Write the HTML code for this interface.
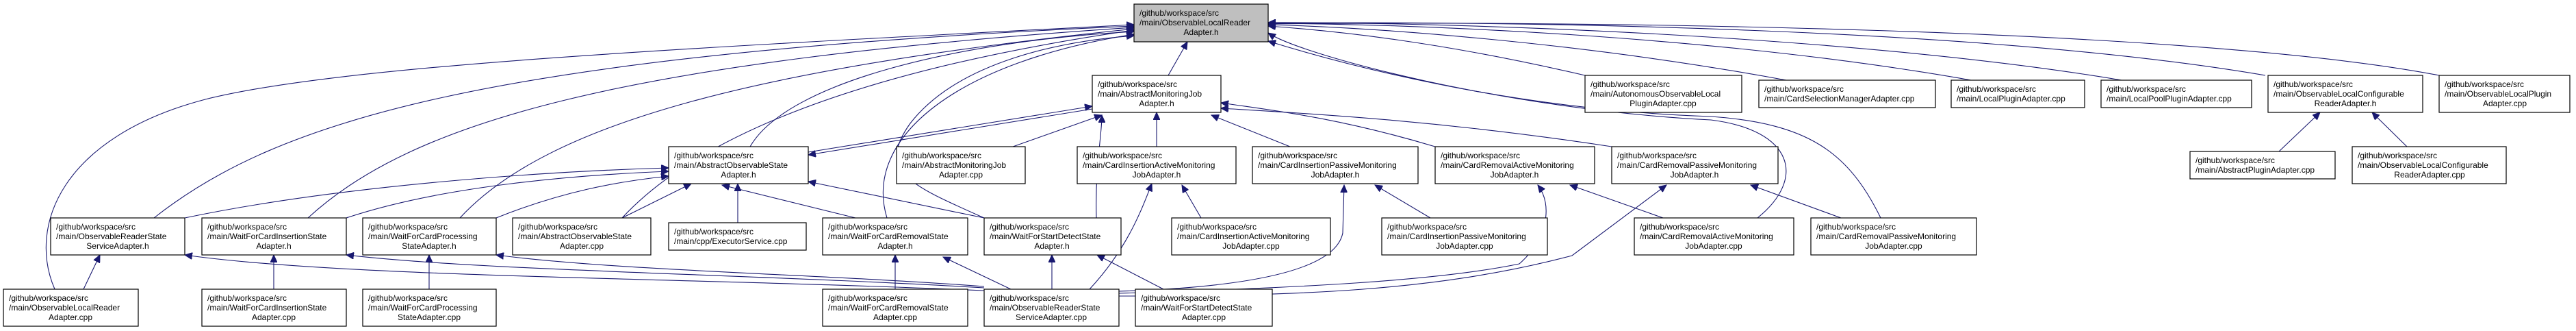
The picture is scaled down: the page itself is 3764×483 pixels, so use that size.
<!DOCTYPE html>
<html><head><meta charset="utf-8"><style>
html,body{margin:0;padding:0;background:#fff;}
svg{display:block;}
text{font-family:"Liberation Sans",Arial,sans-serif;font-size:12px;fill:#000;}
.b{fill:#fff;stroke:#000;stroke-width:1.2;}
.e{fill:none;stroke:#191970;stroke-width:1.1;}
</style></head><body>
<svg width="3764" height="483" viewBox="0 0 3764 483" xmlns="http://www.w3.org/2000/svg">
<defs>
<marker id="a" markerUnits="userSpaceOnUse" markerWidth="12" markerHeight="10" refX="11" refY="5" orient="auto">
<path d="M0,0 L11,5 L0,10 z" fill="#191970" stroke="#191970"/>
</marker>
</defs>
<g marker-end="url(#a)">
<path class="e" d="M80,422 C40,330 90,200 300,145 C500,95 1000,70 1657,36"/>
<path class="e" d="M225,318 C400,180 700,80 1657,38"/>
<path class="e" d="M450,318 C600,180 900,90 1657,40"/>
<path class="e" d="M672,318 C800,180 1100,100 1657,42"/>
<path class="e" d="M909,318 C1000,220 1200,110 1657,44"/>
<path class="e" d="M1096,214 C1150,120 1400,60 1657,46"/>
<path class="e" d="M1296,318 C1260,200 1400,90 1657,50"/>
<path class="e" d="M1438,318 C1330,270 1280,250 1330,180 C1400,90 1550,60 1657,52"/>
<path class="e" d="M1707,110 L1735,61"/>
<path class="e" d="M2316,110 C2100,60 1950,45 1853,38"/>
<path class="e" d="M2610,117 C2300,60 2000,40 1853,36"/>
<path class="e" d="M2880,117 C2500,50 2050,35 1853,34"/>
<path class="e" d="M3100,117 C2700,50 2100,32 1853,33"/>
<path class="e" d="M3310,110 C2900,40 2200,30 1853,34"/>
<path class="e" d="M3564,110 C3200,40 2300,30 1853,35"/>
<path class="e" d="M2568,318 C2640,260 2620,190 2500,175 C2200,160 1900,80 1853,48"/>
<path class="e" d="M2748,318 C2700,220 2640,180 2500,170 C2200,160 1950,90 1853,60"/>
<path class="e" d="M1181,222 L1596,155"/>
<path class="e" d="M1596,159 L1181,226"/>
<path class="e" d="M270,318 C500,270 800,250 977,245"/>
<path class="e" d="M506,318 C650,270 850,255 977,250"/>
<path class="e" d="M725,318 C820,280 900,265 977,257"/>
<path class="e" d="M909,318 L1010,268"/>
<path class="e" d="M1078,325 L1078,268"/>
<path class="e" d="M1250,318 L1055,270"/>
<path class="e" d="M1438,318 L1181,265"/>
<path class="e" d="M1480,214 L1610,168"/>
<path class="e" d="M1690,214 L1690,164"/>
<path class="e" d="M1885,214 L1770,168"/>
<path class="e" d="M2097,214 C1950,170 1850,160 1784,150"/>
<path class="e" d="M2355,214 C2100,175 1900,165 1784,158"/>
<path class="e" d="M1602,318 C1600,240 1610,200 1610,168"/>
<path class="e" d="M1438,424 C1000,405 500,405 270,372"/>
<path class="e" d="M1438,420 C1100,400 700,395 506,372"/>
<path class="e" d="M1438,418 C1200,400 900,395 725,372"/>
<path class="e" d="M1477,422 L1378,375"/>
<path class="e" d="M1537,422 L1537,372"/>
<path class="e" d="M1592,422 C1650,360 1670,300 1683,268"/>
<path class="e" d="M1635,425 C1800,420 1950,400 1962,340 L1964,270"/>
<path class="e" d="M1635,428 C1900,420 2100,410 2220,385 C2260,350 2270,300 2247,270"/>
<path class="e" d="M1635,432 C1900,432 2100,425 2297,373 L2435,270"/>
<path class="e" d="M400,422 L400,372"/>
<path class="e" d="M627,422 L627,372"/>
<path class="e" d="M122,422 L146,372"/>
<path class="e" d="M1308,422 L1308,372"/>
<path class="e" d="M1700,422 L1603,372"/>
<path class="e" d="M1755,318 L1727,270"/>
<path class="e" d="M2090,318 L2009,270"/>
<path class="e" d="M2430,318 L2294,270"/>
<path class="e" d="M2690,318 L2558,270"/>
<path class="e" d="M3330,221 L3390,164"/>
<path class="e" d="M3517,214 L3466,164"/>
</g>
<g>
<rect x="1657" y="6" width="196" height="55" fill="#bfbfbf" stroke="#000" stroke-width="1.2"/>
<text x="1665" y="23">/github/workspace/src</text><text x="1665" y="37">/main/ObservableLocalReader</text><text x="1755" y="51" text-anchor="middle">Adapter.h</text>

<rect class="b" x="1596" y="110" width="188" height="54"/>
<text x="1604" y="127">/github/workspace/src</text><text x="1604" y="141">/main/AbstractMonitoringJob</text><text x="1690" y="155" text-anchor="middle">Adapter.h</text>

<rect class="b" x="2316" y="110" width="229" height="54"/>
<text x="2324" y="127">/github/workspace/src</text><text x="2324" y="141">/main/AutonomousObservableLocal</text><text x="2430" y="155" text-anchor="middle">PluginAdapter.cpp</text>

<rect class="b" x="2570" y="117" width="258" height="40"/>
<text x="2578" y="134">/github/workspace/src</text><text x="2578" y="148">/main/CardSelectionManagerAdapter.cpp</text>

<rect class="b" x="2851" y="117" width="195" height="40"/>
<text x="2859" y="134">/github/workspace/src</text><text x="2859" y="148">/main/LocalPluginAdapter.cpp</text>

<rect class="b" x="3070" y="117" width="220" height="40"/>
<text x="3078" y="134">/github/workspace/src</text><text x="3078" y="148">/main/LocalPoolPluginAdapter.cpp</text>

<rect class="b" x="3314" y="110" width="226" height="54"/>
<text x="3322" y="127">/github/workspace/src</text><text x="3322" y="141">/main/ObservableLocalConfigurable</text><text x="3427" y="155" text-anchor="middle">ReaderAdapter.h</text>

<rect class="b" x="3564" y="110" width="191" height="54"/>
<text x="3572" y="127">/github/workspace/src</text><text x="3572" y="141">/main/ObservableLocalPlugin</text><text x="3660" y="155" text-anchor="middle">Adapter.cpp</text>

<rect class="b" x="3200" y="221" width="212" height="40"/>
<text x="3208" y="238">/github/workspace/src</text><text x="3208" y="252">/main/AbstractPluginAdapter.cpp</text>

<rect class="b" x="3437" y="214" width="225" height="54"/>
<text x="3445" y="231">/github/workspace/src</text><text x="3445" y="245">/main/ObservableLocalConfigurable</text><text x="3550" y="259" text-anchor="middle">ReaderAdapter.cpp</text>

<rect class="b" x="977" y="214" width="204" height="54"/>
<text x="985" y="231">/github/workspace/src</text><text x="985" y="245">/main/AbstractObservableState</text><text x="1079" y="259" text-anchor="middle">Adapter.h</text>

<rect class="b" x="1310" y="214" width="188" height="54"/>
<text x="1318" y="231">/github/workspace/src</text><text x="1318" y="245">/main/AbstractMonitoringJob</text><text x="1404" y="259" text-anchor="middle">Adapter.cpp</text>

<rect class="b" x="1574" y="214" width="232" height="54"/>
<text x="1582" y="231">/github/workspace/src</text><text x="1582" y="245">/main/CardInsertionActiveMonitoring</text><text x="1690" y="259" text-anchor="middle">JobAdapter.h</text>

<rect class="b" x="1830" y="214" width="242" height="54"/>
<text x="1838" y="231">/github/workspace/src</text><text x="1838" y="245">/main/CardInsertionPassiveMonitoring</text><text x="1951" y="259" text-anchor="middle">JobAdapter.h</text>

<rect class="b" x="2097" y="214" width="233" height="54"/>
<text x="2105" y="231">/github/workspace/src</text><text x="2105" y="245">/main/CardRemovalActiveMonitoring</text><text x="2213" y="259" text-anchor="middle">JobAdapter.h</text>

<rect class="b" x="2355" y="214" width="243" height="54"/>
<text x="2363" y="231">/github/workspace/src</text><text x="2363" y="245">/main/CardRemovalPassiveMonitoring</text><text x="2476" y="259" text-anchor="middle">JobAdapter.h</text>

<rect class="b" x="74" y="318" width="196" height="54"/>
<text x="82" y="335">/github/workspace/src</text><text x="82" y="349">/main/ObservableReaderState</text><text x="172" y="363" text-anchor="middle">ServiceAdapter.h</text>

<rect class="b" x="295" y="318" width="211" height="54"/>
<text x="303" y="335">/github/workspace/src</text><text x="303" y="349">/main/WaitForCardInsertionState</text><text x="400" y="363" text-anchor="middle">Adapter.h</text>

<rect class="b" x="530" y="318" width="195" height="54"/>
<text x="538" y="335">/github/workspace/src</text><text x="538" y="349">/main/WaitForCardProcessing</text><text x="627" y="363" text-anchor="middle">StateAdapter.h</text>

<rect class="b" x="749" y="318" width="202" height="54"/>
<text x="757" y="335">/github/workspace/src</text><text x="757" y="349">/main/AbstractObservableState</text><text x="850" y="363" text-anchor="middle">Adapter.cpp</text>

<rect class="b" x="977" y="325" width="201" height="40"/>
<text x="985" y="342">/github/workspace/src</text><text x="985" y="356">/main/cpp/ExecutorService.cpp</text>

<rect class="b" x="1202" y="318" width="212" height="54"/>
<text x="1210" y="335">/github/workspace/src</text><text x="1210" y="349">/main/WaitForCardRemovalState</text><text x="1308" y="363" text-anchor="middle">Adapter.h</text>

<rect class="b" x="1438" y="318" width="200" height="54"/>
<text x="1446" y="335">/github/workspace/src</text><text x="1446" y="349">/main/WaitForStartDetectState</text><text x="1537" y="363" text-anchor="middle">Adapter.h</text>

<rect class="b" x="1712" y="318" width="232" height="54"/>
<text x="1720" y="335">/github/workspace/src</text><text x="1720" y="349">/main/CardInsertionActiveMonitoring</text><text x="1828" y="363" text-anchor="middle">JobAdapter.cpp</text>

<rect class="b" x="2019" y="318" width="242" height="54"/>
<text x="2027" y="335">/github/workspace/src</text><text x="2027" y="349">/main/CardInsertionPassiveMonitoring</text><text x="2140" y="363" text-anchor="middle">JobAdapter.cpp</text>

<rect class="b" x="2388" y="318" width="233" height="54"/>
<text x="2396" y="335">/github/workspace/src</text><text x="2396" y="349">/main/CardRemovalActiveMonitoring</text><text x="2504" y="363" text-anchor="middle">JobAdapter.cpp</text>

<rect class="b" x="2646" y="318" width="242" height="54"/>
<text x="2654" y="335">/github/workspace/src</text><text x="2654" y="349">/main/CardRemovalPassiveMonitoring</text><text x="2767" y="363" text-anchor="middle">JobAdapter.cpp</text>

<rect class="b" x="5" y="422" width="197" height="54"/>
<text x="13" y="439">/github/workspace/src</text><text x="13" y="453">/main/ObservableLocalReader</text><text x="103" y="467" text-anchor="middle">Adapter.cpp</text>

<rect class="b" x="295" y="422" width="211" height="54"/>
<text x="303" y="439">/github/workspace/src</text><text x="303" y="453">/main/WaitForCardInsertionState</text><text x="400" y="467" text-anchor="middle">Adapter.cpp</text>

<rect class="b" x="530" y="422" width="195" height="54"/>
<text x="538" y="439">/github/workspace/src</text><text x="538" y="453">/main/WaitForCardProcessing</text><text x="627" y="467" text-anchor="middle">StateAdapter.cpp</text>

<rect class="b" x="1202" y="422" width="212" height="54"/>
<text x="1210" y="439">/github/workspace/src</text><text x="1210" y="453">/main/WaitForCardRemovalState</text><text x="1308" y="467" text-anchor="middle">Adapter.cpp</text>

<rect class="b" x="1438" y="422" width="197" height="54"/>
<text x="1446" y="439">/github/workspace/src</text><text x="1446" y="453">/main/ObservableReaderState</text><text x="1536" y="467" text-anchor="middle">ServiceAdapter.cpp</text>

<rect class="b" x="1659" y="422" width="200" height="54"/>
<text x="1667" y="439">/github/workspace/src</text><text x="1667" y="453">/main/WaitForStartDetectState</text><text x="1759" y="467" text-anchor="middle">Adapter.cpp</text>
</g>
</svg>
</body></html>
